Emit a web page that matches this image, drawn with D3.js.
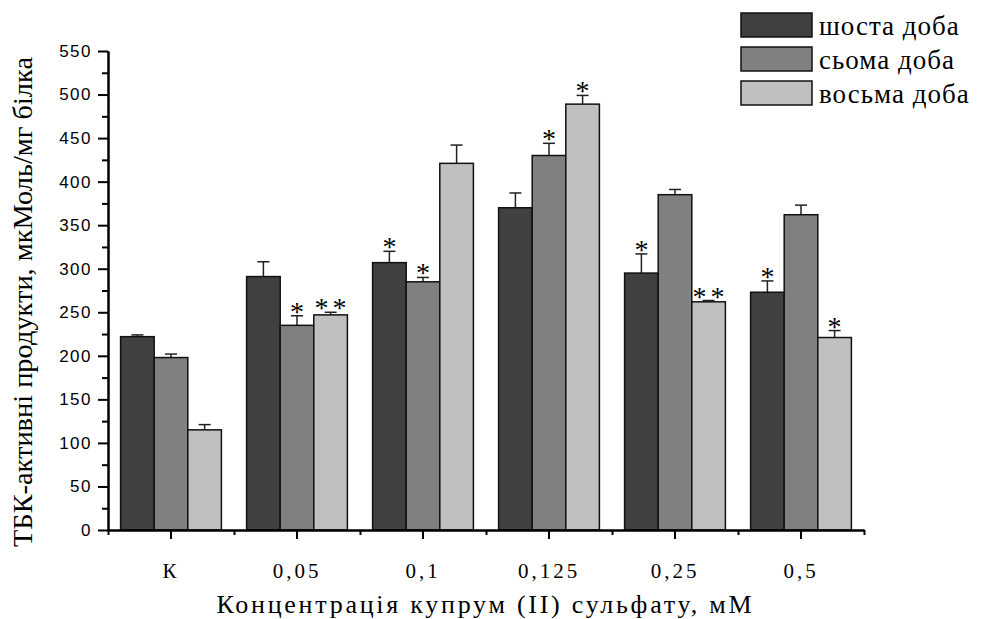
<!DOCTYPE html>
<html>
<head>
<meta charset="utf-8">
<script src="https://cdn.jsdelivr.net/npm/d3@7"></script>
<style>
  body { margin: 0; background: #fff; }
  .serif { font-family: "Liberation Serif", "Times New Roman", serif; fill: #000; }
  .yTick text { font-family: "Liberation Sans", Arial, sans-serif; font-size: 17px; letter-spacing: 1.5px; }
</style>
</head>
<body>
<svg id="chart" width="984" height="619"></svg>
<script>
var categories = ["К", "0,05", "0,1", "0,125", "0,25", "0,5"];
var seriesNames = ["шоста доба", "сьома доба", "восьма доба"];

var day6 = [222, 291, 307, 370, 295, 273];
var day7 = [198, 235, 285, 430, 385, 362];
var day8 = [115, 247, 421, 489, 262, 221];

var err6 = [2, 17, 13, 17, 22, 13];
var err7 = [4, 11, 5, 14, 6, 11];
var err8 = [6, 3, 21, 10, 1.5, 8];

var sig6 = ["", "", "*", "", "*", "*"];
var sig7 = ["", "*", "*", "*", "", ""];
var sig8 = ["", "**", "", "*", "**", "*"];

var yTicks = [0, 50, 100, 150, 200, 250, 300, 350, 400, 450, 500, 550];
var colors = ["#404040", "#808080", "#c0c0c0"];

var svg = d3.select("#chart");

var margin = {left: 108, right: 864, top: 51, bottom: 530};

var x = d3.scaleBand()
    .domain(categories)
    .range([margin.left, margin.right])
    .paddingInner(0.2)
    .paddingOuter(0.1);

var xSub = d3.scaleBand()
    .domain([0, 1, 2])
    .range([0, x.bandwidth()]);

var y = d3.scaleLinear()
    .domain([0, 550])
    .range([margin.bottom, margin.top]);

// build rows from arrays
var rows = [];
var vals = [day6, day7, day8], errs = [err6, err7, err8], sigs = [sig6, sig7, sig8];
for (var i = 0; i < categories.length; i++) {
  for (var s = 0; s < 3; s++) {
    rows.push({cat: categories[i], s: s, v: vals[s][i], e: errs[s][i], sig: sigs[s][i]});
  }
}

function midX(d) { return x(d.cat) + xSub(d.s) + xSub.bandwidth() / 2; }

// error bars (drawn first, bars cover the lower part)
var eb = svg.append("g").attr("stroke", "#222").attr("stroke-width", 1.5);
eb.selectAll(".errLine")
    .data(rows)
  .enter().append("line")
    .attr("x1", midX)
    .attr("x2", midX)
    .attr("y1", function(d) { return y(d.v); })
    .attr("y2", function(d) { return y(d.v + d.e); });
eb.selectAll(".errCap")
    .data(rows)
  .enter().append("line")
    .attr("x1", function(d) { return midX(d) - 6; })
    .attr("x2", function(d) { return midX(d) + 6; })
    .attr("y1", function(d) { return y(d.v + d.e); })
    .attr("y2", function(d) { return y(d.v + d.e); });

// bars
svg.selectAll(".bar")
    .data(rows)
  .enter().append("rect")
    .attr("class", "bar")
    .attr("x", function(d) { return x(d.cat) + xSub(d.s); })
    .attr("width", xSub.bandwidth())
    .attr("y", function(d) { return y(d.v); })
    .attr("height", function(d) { return y(0) - y(d.v); })
    .attr("fill", function(d) { return colors[d.s]; })
    .attr("stroke", "#111")
    .attr("stroke-width", 1.5);

// significance marks
svg.selectAll(".sig")
    .data(rows.filter(function(d) { return d.sig != ""; }))
  .enter().append("text")
    .attr("class", "serif")
    .attr("x", function(d) { return midX(d) + (d.sig.length > 1 ? 2 : 0); })
    .attr("y", function(d) { return y(d.v + d.e) + 5; })
    .attr("text-anchor", "middle")
    .style("font-size", "28px")
    .style("letter-spacing", function(d) { return d.sig.length > 1 ? "4px" : "0px"; })
    .attr("fill", "#222")
    .text(function(d) { return d.sig; });

// y axis
svg.append("g")
    .attr("class", "yTick")
    .attr("transform", "translate(" + margin.left + ",0)")
    .call(d3.axisLeft(y).tickValues(yTicks).tickSize(10).tickPadding(6).tickSizeOuter(0));
svg.append("g")
    .attr("transform", "translate(" + margin.left + ",0)")
    .call(d3.axisLeft(y).tickValues(d3.range(25, 550, 50)).tickSize(6).tickFormat("").tickSizeOuter(0));

// x axis
var xAxis = svg.append("g")
    .attr("transform", "translate(0," + margin.bottom + ")")
    .call(d3.axisBottom(x).tickSize(9).tickSizeOuter(0).tickPadding(24));
xAxis.selectAll("text")
    .attr("class", "serif")
    .style("font-size", "21px")
    .style("letter-spacing", "3px");
var xMinor = d3.scaleLinear().domain([0, categories.length]).range([margin.left, margin.right]);
svg.append("g")
    .attr("transform", "translate(0," + margin.bottom + ")")
    .call(d3.axisBottom(xMinor).tickValues(d3.range(0, categories.length + 1)).tickSize(5).tickFormat("").tickSizeOuter(0));

svg.selectAll(".domain").attr("stroke-width", 2).attr("stroke", "#000");
svg.selectAll(".tick line").attr("stroke-width", 2).attr("stroke", "#000");

// axis titles
svg.append("text")
    .attr("class", "serif")
    .attr("transform", "translate(32,302) rotate(-90)")
    .attr("text-anchor", "middle")
    .attr("textLength", 490)
    .attr("lengthAdjust", "spacingAndGlyphs")
    .style("font-size", "27px")
    .text("ТБК-активні продукти, мкМоль/мг білка");

svg.append("text")
    .attr("class", "serif")
    .attr("x", 484)
    .attr("y", 613)
    .attr("text-anchor", "middle")
    .attr("textLength", 535)
    .attr("lengthAdjust", "spacing")
    .style("font-size", "26px")
    .text("Концентрація купрум (ІІ) сульфату, мМ");

// legend
var legend = svg.selectAll(".legend")
    .data(seriesNames)
  .enter().append("g")
    .attr("class", "legend")
    .attr("transform", function(d, i) { return "translate(741," + (13 + i * 34) + ")"; });
legend.append("rect")
    .attr("width", 71)
    .attr("height", 24)
    .attr("fill", function(d, i) { return colors[i]; })
    .attr("stroke", "#111")
    .attr("stroke-width", 1.5);
legend.append("text")
    .attr("class", "serif")
    .attr("x", 78)
    .attr("y", 22)
    .style("font-size", "27px")
    .style("letter-spacing", "1px")
    .text(function(d) { return d; });
</script>
</body>
</html>
